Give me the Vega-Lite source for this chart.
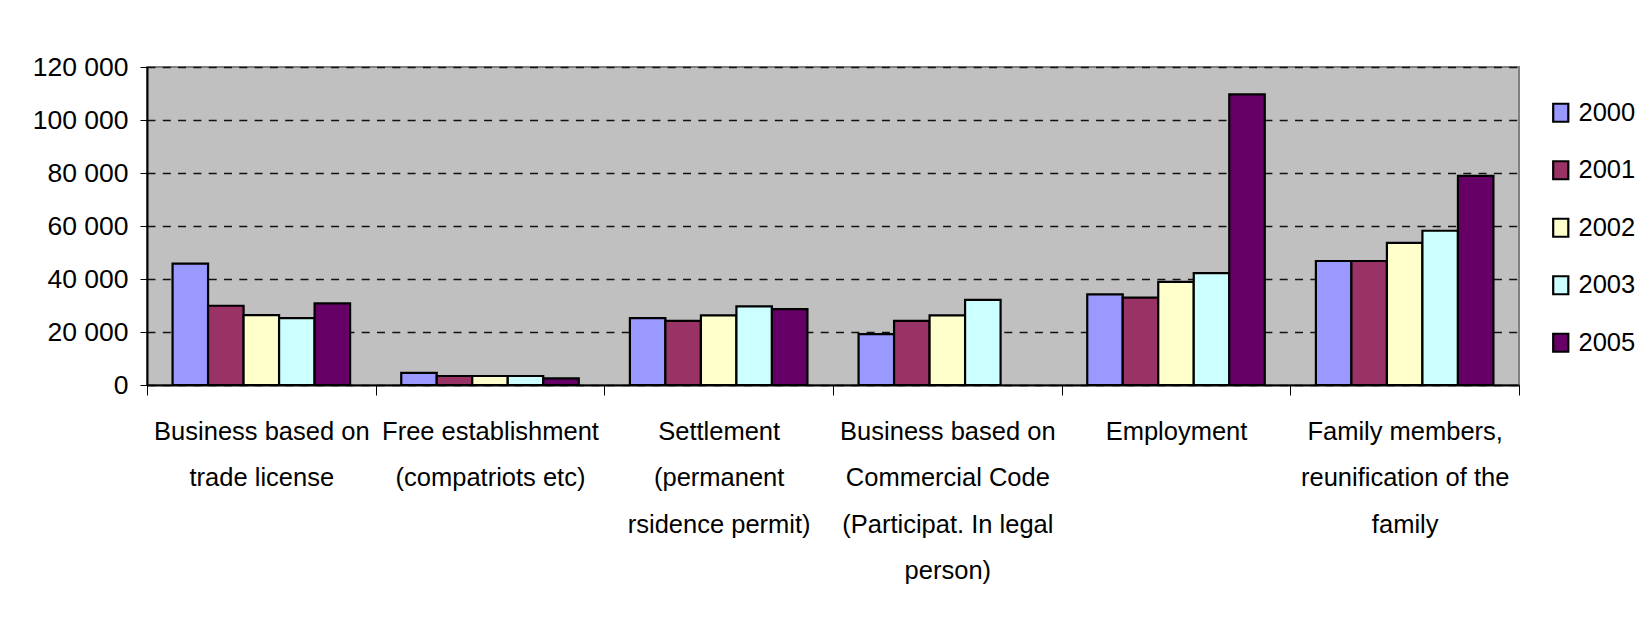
{
  "$schema": "https://vega.github.io/schema/vega-lite/v6.json",
  "autosize": {"type": "none"},
  "padding": {"left": 147, "top": 67, "right": 120, "bottom": 247},
  "width": 1372,
  "height": 318,
  "background": "#FFFFFF",
  "data": {
    "values": [
      {"cat": "Business based on\ntrade license", "year": "2000", "value": 45800},
      {"cat": "Business based on\ntrade license", "year": "2001", "value": 29900},
      {"cat": "Business based on\ntrade license", "year": "2002", "value": 26400},
      {"cat": "Business based on\ntrade license", "year": "2003", "value": 25200},
      {"cat": "Business based on\ntrade license", "year": "2005", "value": 30800},
      {"cat": "Free establishment\n(compatriots etc)", "year": "2000", "value": 4600},
      {"cat": "Free establishment\n(compatriots etc)", "year": "2001", "value": 3400},
      {"cat": "Free establishment\n(compatriots etc)", "year": "2002", "value": 3400},
      {"cat": "Free establishment\n(compatriots etc)", "year": "2003", "value": 3400},
      {"cat": "Free establishment\n(compatriots etc)", "year": "2005", "value": 2500},
      {"cat": "Settlement\n(permanent\nrsidence permit)", "year": "2000", "value": 25200},
      {"cat": "Settlement\n(permanent\nrsidence permit)", "year": "2001", "value": 24200},
      {"cat": "Settlement\n(permanent\nrsidence permit)", "year": "2002", "value": 26300},
      {"cat": "Settlement\n(permanent\nrsidence permit)", "year": "2003", "value": 29700},
      {"cat": "Settlement\n(permanent\nrsidence permit)", "year": "2005", "value": 28600},
      {"cat": "Business based on\nCommercial Code\n(Participat. In legal\nperson)", "year": "2000", "value": 19200},
      {"cat": "Business based on\nCommercial Code\n(Participat. In legal\nperson)", "year": "2001", "value": 24200},
      {"cat": "Business based on\nCommercial Code\n(Participat. In legal\nperson)", "year": "2002", "value": 26300},
      {"cat": "Business based on\nCommercial Code\n(Participat. In legal\nperson)", "year": "2003", "value": 32100},
      {"cat": "Employment", "year": "2000", "value": 34200},
      {"cat": "Employment", "year": "2001", "value": 33000},
      {"cat": "Employment", "year": "2002", "value": 38900},
      {"cat": "Employment", "year": "2003", "value": 42200},
      {"cat": "Employment", "year": "2005", "value": 109700},
      {"cat": "Family members,\nreunification of the\nfamily", "year": "2000", "value": 46800},
      {"cat": "Family members,\nreunification of the\nfamily", "year": "2001", "value": 46800},
      {"cat": "Family members,\nreunification of the\nfamily", "year": "2002", "value": 53600},
      {"cat": "Family members,\nreunification of the\nfamily", "year": "2003", "value": 58200},
      {"cat": "Family members,\nreunification of the\nfamily", "year": "2005", "value": 78900}
    ]
  },
  "config": {
    "font": "Liberation Sans, Arial, sans-serif",
    "view": {"fill": "#C0C0C0", "stroke": "#808080", "strokeWidth": 2}
  },
  "mark": {"type": "bar", "stroke": "#000000", "strokeWidth": 2.2},
  "encoding": {
    "x": {
      "field": "cat",
      "type": "nominal",
      "sort": null,
      "scale": {"paddingInner": 0, "paddingOuter": 0},
      "axis": {
        "title": null,
        "labelAngle": 0,
        "labelExpr": "split(datum.label, '\\n')",
        "labelFont": "Liberation Sans, Arial, sans-serif",
        "labelFontSize": 25.5,
        "labelColor": "#000000",
        "labelLineHeight": 46.5,
        "labelBaseline": "top",
        "labelPadding": 24,
        "labelLimit": 0,
        "tickBand": "extent",
        "tickSize": 10,
        "tickColor": "#000000",
        "tickWidth": 1,
        "domainColor": "#000000",
        "domainWidth": 2,
        "grid": false
      }
    },
    "xOffset": {
      "field": "year",
      "type": "nominal",
      "sort": ["2000", "2001", "2002", "2003", "2005"],
      "scale": {"domain": ["2000", "2001", "2002", "2003", "2005"], "paddingOuter": 0.72, "paddingInner": 0}
    },
    "y": {
      "field": "value",
      "type": "quantitative",
      "scale": {"domain": [0, 120000], "nice": false},
      "axis": {
        "title": null,
        "values": [0, 20000, 40000, 60000, 80000, 100000, 120000],
        "labelExpr": "replace(format(datum.value, ','), ',', ' ')",
        "labelFont": "Liberation Sans, Arial, sans-serif",
        "labelFontSize": 26.5,
        "labelColor": "#000000",
        "labelPadding": 12,
        "tickSize": 7,
        "tickColor": "#000000",
        "domainColor": "#000000",
        "domainWidth": 2,
        "grid": true,
        "gridColor": "#111111",
        "gridWidth": 1.5,
        "gridDash": [8, 7.3]
      }
    },
    "color": {
      "field": "year",
      "type": "nominal",
      "scale": {
        "domain": ["2000", "2001", "2002", "2003", "2005"],
        "range": ["#9999FF", "#993366", "#FFFFCC", "#CCFFFF", "#660066"]
      },
      "legend": {
        "title": null,
        "orient": "none",
        "legendX": 1401,
        "legendY": 33,
        "padding": 0,
        "symbolType": "M-0.84,-1H0.84V1H-0.84Z",
        "symbolSize": 324,
        "symbolStrokeColor": "#000000",
        "symbolStrokeWidth": 2.2,
        "labelFont": "Liberation Sans, Arial, sans-serif",
        "labelFontSize": 25.5,
        "labelColor": "#000000",
        "labelOffset": 5,
        "rowPadding": 29.5
      }
    }
  }
}
